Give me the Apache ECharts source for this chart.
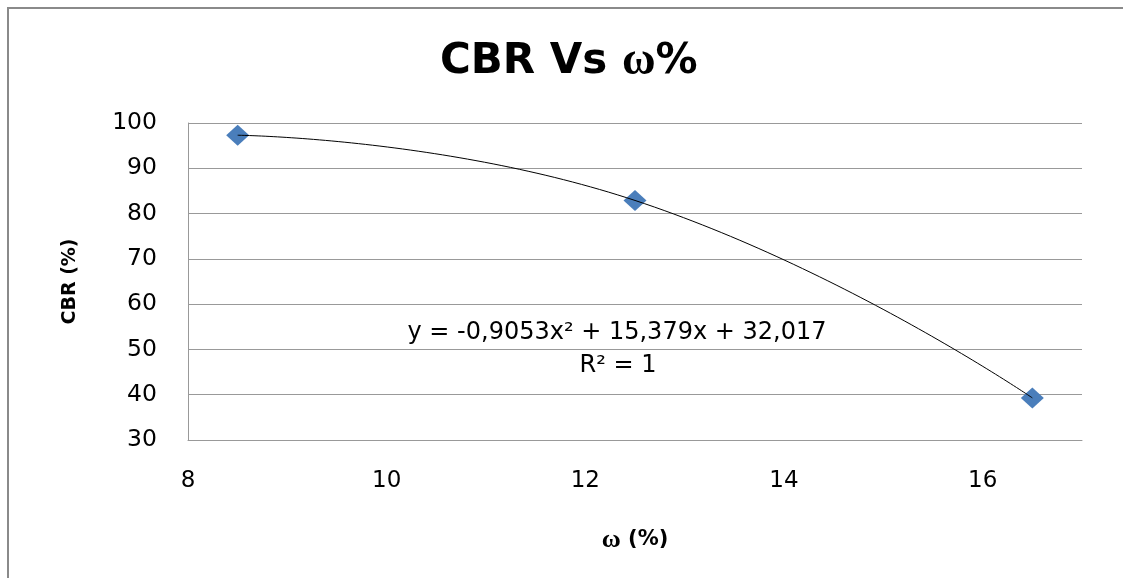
<!DOCTYPE html>
<html>
<head>
<meta charset="utf-8">
<script src="https://cdn.jsdelivr.net/npm/echarts@6/dist/echarts.min.js"></script>
<style>
html,body{margin:0;padding:0;background:#fff;}
#chart{width:1123px;height:578px;}
</style>
</head>
<body>
<div id="chart"></div>
<script>
// Data
const moistureValues = [8.5, 12.5, 16.5];      // ω (%)
const cbrValues = [97.3, 82.9, 39.3];          // CBR (%)
const xTickMin = 8, xTickMax = 17, xTickStep = 2;
const yTickMin = 30, yTickMax = 100, yTickStep = 10;
const titleMain = 'CBR Vs ';
const titleSymbol = 'ω';
const equationText = 'y = -0,9053x² + 15,379x + 32,017';
const r2Text = 'R² = 1';
const xNameSymbol = 'ω';
const xNameRest = ' (%)';
const yName = 'CBR (%)';

const points = moistureValues.map((x, i) => [x, cbrValues[i]]);

const chart = echarts.init(document.getElementById('chart'), null, {renderer: 'canvas'});
chart.setOption({
  animation: false,
  backgroundColor: '#ffffff',
  title: {
    text: '{a|' + titleMain + '}{b|' + titleSymbol + '}{a|%}',
    left: 440,
    top: 39,
    padding: 0,
    textStyle: {
      rich: {
        a: {fontFamily: 'DejaVu Sans', fontWeight: 'bold', fontSize: 42, color: '#000'},
        b: {fontFamily: 'Liberation Serif', fontWeight: 'bold', fontSize: 46, color: '#000'}
      }
    }
  },
  grid: {left: 188, top: 123, right: 41, bottom: 138, containLabel: false},
  xAxis: {
    type: 'value',
    min: xTickMin, max: xTickMax, interval: xTickStep,
    name: '{b|' + xNameSymbol + '}{a|' + xNameRest + '}',
    nameLocation: 'middle',
    nameGap: 87,
    nameTextStyle: {
      rich: {
        a: {fontFamily: 'DejaVu Sans', fontWeight: 'bold', fontSize: 21, color: '#000'},
        b: {fontFamily: 'Liberation Serif', fontWeight: 'bold', fontSize: 26, color: '#000'}
      }
    },
    axisLine: {show: true, lineStyle: {color: '#999', width: 1}},
    axisTick: {show: false},
    axisLabel: {fontFamily: 'DejaVu Sans', fontSize: 23, color: '#000', margin: 30, showMaxLabel: false},
    splitLine: {show: false}
  },
  yAxis: {
    type: 'value',
    min: yTickMin, max: yTickMax, interval: yTickStep,
    name: yName,
    nameLocation: 'middle',
    nameGap: 108,
    nameRotate: 90,
    nameTextStyle: {fontFamily: 'DejaVu Sans', fontWeight: 'bold', fontSize: 19, color: '#000'},
    axisLine: {show: true, lineStyle: {color: '#999', width: 1}},
    axisTick: {show: false},
    axisLabel: {fontFamily: 'DejaVu Sans', fontSize: 23.5, color: '#000', margin: 31},
    splitLine: {show: true, lineStyle: {color: '#999', width: 1}}
  },
  graphic: [
    {type: 'rect', silent: true, z: 100,
     shape: {x: 8, y: 8, width: 1300, height: 800},
     style: {fill: 'none', stroke: '#8a8a8a', lineWidth: 2}},
    {type: 'text', x: 617, y: 333, silent: true,
     style: {text: equationText, textAlign: 'center', textVerticalAlign: 'middle', font: '24px "DejaVu Sans"', fill: '#000'}},
    {type: 'text', x: 618, y: 366, silent: true,
     style: {text: r2Text, textAlign: 'center', textVerticalAlign: 'middle', font: '24px "DejaVu Sans"', fill: '#000'}}
  ],
  series: [
    {
      type: 'scatter',
      data: points,
      symbol: 'diamond',
      symbolSize: [23, 21],
      itemStyle: {color: '#4a7ebb', opacity: 1},
      z: 2
    },
    {
      type: 'line',
      data: points,
      smooth: true,
      showSymbol: false,
      symbol: 'none',
      lineStyle: {color: '#000', width: 1},
      z: 3
    }
  ]
});
</script>
</body>
</html>
